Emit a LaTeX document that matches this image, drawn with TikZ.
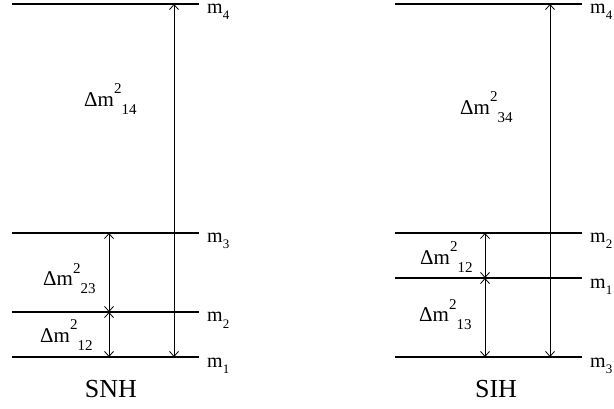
\documentclass[tikz,border=0pt]{standalone}
\usepackage{fontspec}
\setmainfont{Liberation Serif}
\usetikzlibrary{arrows.meta, positioning, calc}

\newcommand{\dmsq}[2]{Δm\raisebox{13pt}{\fontsize{15}{15}\selectfont #1}\raisebox{-8pt}{\fontsize{15}{15}\selectfont #2}}
\newcommand{\mlev}[1]{m\raisebox{-6pt}{\fontsize{13}{13}\selectfont #1}}

\begin{document}
\begin{tikzpicture}[
    x=1pt, y=-1pt,
    level/.style={line width=1.6pt},
    gap/.style={line width=0.8pt, {Straight Barb[length=5pt,width=9pt]}-{Straight Barb[length=5pt,width=9pt]}},
    mlab/.style={anchor=base west, inner sep=0pt, font=\fontsize{20}{24}\selectfont},
    dlab/.style={anchor=base west, inner sep=0pt, font=\fontsize{21}{26}\selectfont},
    title/.style={anchor=base, inner sep=0pt, font=\fontsize{26}{30}\selectfont},
  ]
  \useasboundingbox (0,0) rectangle (614,409);

  % SNH levels
  \foreach \n/\y in {4/4, 3/233, 2/312, 1/357} {
    \coordinate (sl\n) at (12,\y);
    \coordinate (sr\n) at (199,\y);
    \draw[level] (sl\n) -- (sr\n);
    \node[mlab] (sm\n) at (207,\y+10) {\mlev{\n}};
  }

  % SNH splittings
  \coordinate (sx) at (174,0);
  \coordinate (sy) at (109,0);
  \draw[gap] (sl1 -| sx) -- (sl4 -| sx);
  \draw[gap] (sl3 -| sy) -- (sl2 -| sy);
  \draw[gap] (sl2 -| sy) -- (sl1 -| sy);

  \node[dlab] (s14) at (84,107) {\dmsq{2}{14}};
  \node[dlab] (s23) at (43,286) {\dmsq{2}{23}};
  \node[dlab] (s12) at (40,342) {\dmsq{2}{12}};
  \node[title] (snh) at (111,397) {SNH};

  % SIH levels
  \foreach \n/\y in {4/4, 2/233, 1/278, 3/357} {
    \coordinate (il\n) at (395,\y);
    \coordinate (ir\n) at (582,\y);
    \draw[level] (il\n) -- (ir\n);
    \node[mlab] (im\n) at (590,\y+10) {\mlev{\n}};
  }

  % SIH splittings
  \coordinate (ix) at (550,0);
  \coordinate (iy) at (485,0);
  \draw[gap] (il3 -| ix) -- (il4 -| ix);
  \draw[gap] (il2 -| iy) -- (il1 -| iy);
  \draw[gap] (il1 -| iy) -- (il3 -| iy);

  \node[dlab] (i34) at (460,115) {\dmsq{2}{34}};
  \node[dlab] (i12) at (420,265) {\dmsq{2}{12}};
  \node[dlab] (i13) at (419,322) {\dmsq{2}{13}};
  \node[title] (sih) at (496,397) {SIH};
\end{tikzpicture}
\end{document}
